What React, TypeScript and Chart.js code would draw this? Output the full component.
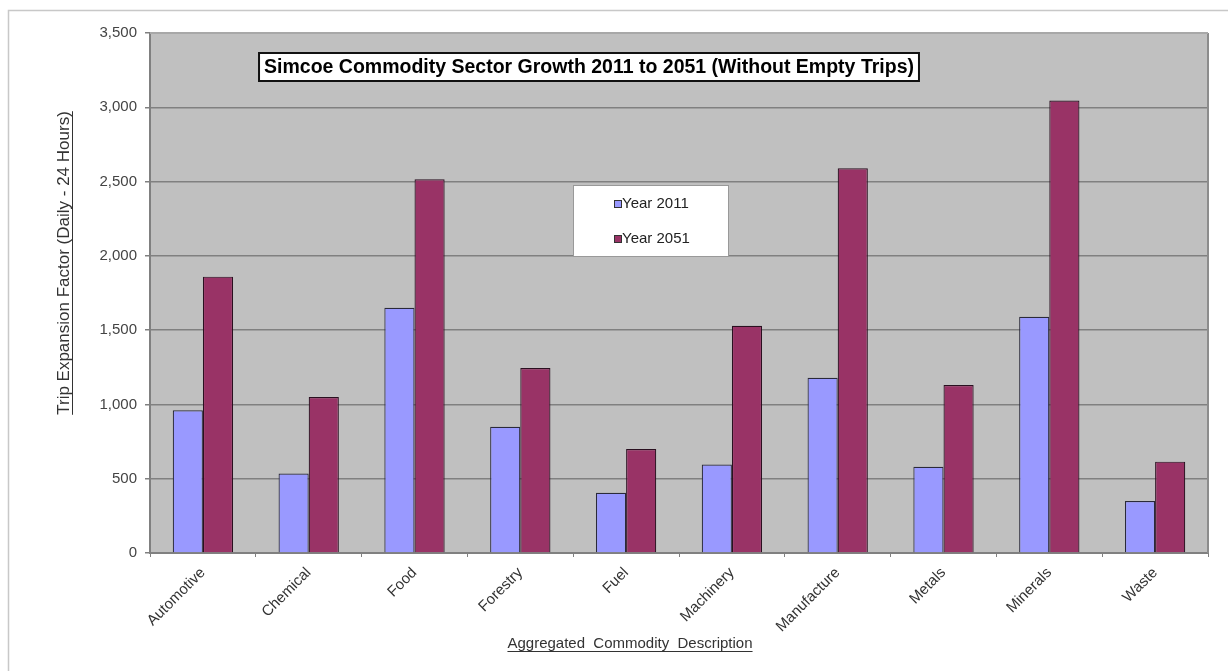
import React, { useEffect, useRef } from 'react';
import { Chart, registerables } from 'chart.js';

Chart.register(...registerables);

const categories = ['Automotive', 'Chemical', 'Food', 'Forestry', 'Fuel', 'Machinery', 'Manufacture', 'Metals', 'Minerals', 'Waste'];
const year2011 = [960, 535, 1650, 850, 405, 595, 1180, 580, 1590, 350];
const year2051 = [1860, 1050, 2515, 1245, 700, 1530, 2590, 1130, 3045, 615];
const seriesLabels = ['Year 2011', 'Year 2051'];
const seriesColors = ['#9999ff', '#993366'];
const yMin = 0;
const yMax = 3500;
const yStep = 500;
const chartTitle = 'Simcoe Commodity Sector Growth 2011 to 2051 (Without Empty Trips)';
const xTitle = 'Aggregated  Commodity  Description';
const yTitle = 'Trip Expansion Factor (Daily - 24 Hours)';

const FONT = "'Liberation Sans', Arial, sans-serif";

function underlinedText(ctx: CanvasRenderingContext2D, text: string, x: number, y: number, off: number) {
  ctx.textAlign = 'center';
  ctx.textBaseline = 'alphabetic';
  ctx.fillText(text, x, y);
  const w = ctx.measureText(text).width;
  ctx.beginPath();
  ctx.lineWidth = 1;
  ctx.moveTo(x - w / 2, y + off + 0.5);
  ctx.lineTo(x + w / 2, y + off + 0.5);
  ctx.stroke();
}

const decorPlugin = {
  id: 'decor',
  beforeDraw(chart: any) {
    const ctx = chart.ctx as CanvasRenderingContext2D;
    const a = chart.chartArea;
    ctx.save();
    ctx.fillStyle = '#ffffff';
    ctx.fillRect(0, 0, chart.width, chart.height);
    ctx.strokeStyle = '#c8c8c8';
    ctx.lineWidth = 1.5;
    ctx.strokeRect(8.5, 10.5, chart.width + 20, chart.height + 20);
    ctx.fillStyle = '#c0c0c0';
    ctx.fillRect(a.left, a.top, a.right - a.left, a.bottom - a.top);
    ctx.restore();
  },
  afterDatasetsDraw(chart: any) {
    const ctx = chart.ctx as CanvasRenderingContext2D;
    const a = chart.chartArea;
    ctx.save();
    ctx.strokeStyle = '#8c8c8c';
    ctx.lineWidth = 2;
    ctx.beginPath();
    ctx.moveTo(a.right, a.top);
    ctx.lineTo(a.right, a.bottom);
    ctx.stroke();
    ctx.strokeStyle = '#a8a8a8';
    ctx.beginPath();
    ctx.moveTo(a.left, a.top);
    ctx.lineTo(a.right, a.top);
    ctx.stroke();

    // Title box
    ctx.font = `bold 19.5px ${FONT}`;
    const tw = ctx.measureText(chartTitle).width;
    const cx = 589;
    const bx = cx - tw / 2 - 5;
    const bw = tw + 10;
    ctx.fillStyle = '#ffffff';
    ctx.fillRect(bx, 53, bw, 28);
    ctx.strokeStyle = '#111111';
    ctx.lineWidth = 2;
    ctx.strokeRect(bx, 53, bw, 28);
    ctx.fillStyle = '#000000';
    ctx.textAlign = 'center';
    ctx.textBaseline = 'middle';
    ctx.fillText(chartTitle, cx, 67.5);

    // Legend
    ctx.fillStyle = '#ffffff';
    ctx.fillRect(573, 185, 155, 71);
    ctx.strokeStyle = '#999999';
    ctx.lineWidth = 1;
    ctx.strokeRect(573.5, 185.5, 155, 71);
    ctx.font = `15px ${FONT}`;
    ctx.textAlign = 'left';
    ctx.textBaseline = 'middle';
    const rows = [204, 239];
    seriesLabels.forEach((lab, i) => {
      ctx.fillStyle = chart.data.datasets[i].backgroundColor;
      ctx.fillRect(614, rows[i] - 4, 7, 7);
      ctx.strokeStyle = '#333333';
      ctx.strokeRect(614.5, rows[i] - 3.5, 7, 7);
      ctx.fillStyle = '#222222';
      ctx.fillText(lab, 622, rows[i]);
    });

    // Axis titles
    ctx.fillStyle = '#333333';
    ctx.strokeStyle = '#333333';
    ctx.font = `15px ${FONT}`;
    underlinedText(ctx, xTitle, 630, 648, 3);
    ctx.font = `17px ${FONT}`;
    ctx.translate(69, 263);
    ctx.rotate(-Math.PI / 2);
    underlinedText(ctx, yTitle, 0, 0, 3);
    ctx.restore();
  },
};

export default function App() {
  const ref = useRef<HTMLCanvasElement | null>(null);
  useEffect(() => {
    if (!ref.current) return;
    const chart = new Chart(ref.current, {
      type: 'bar',
      data: {
        labels: categories,
        datasets: [
          { label: seriesLabels[0], data: year2011, backgroundColor: seriesColors[0], borderColor: '#2a2a3a', borderWidth: 1.2 },
          { label: seriesLabels[1], data: year2051, backgroundColor: seriesColors[1], borderColor: '#2a1020', borderWidth: 1.2 },
        ],
      },
      options: {
        responsive: false,
        animation: false,
        events: [],
        layout: { padding: { left: 0, right: 20, top: 33, bottom: 0 } },
        datasets: { bar: { categoryPercentage: 0.57, barPercentage: 1.0 } },
        plugins: { legend: { display: false }, title: { display: false }, tooltip: { enabled: false } },
        scales: {
          x: {
            offset: true,
            grid: { display: true, drawOnChartArea: false, drawTicks: true, tickLength: 4, color: '#808080', offset: true },
            border: { display: true, color: '#808080', width: 2 },
            ticks: {
              minRotation: 45,
              maxRotation: 45,
              autoSkip: false,
              padding: 7,
              color: '#333333',
              font: { family: FONT, size: 15 },
            },
            afterFit: (s: any) => { s.height = 118; },
          },
          y: {
            min: yMin,
            max: yMax,
            grid: { color: '#808080', lineWidth: 1.5, drawTicks: true, tickLength: 5 },
            border: { display: true, color: '#808080', width: 2 },
            ticks: {
              stepSize: yStep,
              padding: 8,
              color: '#444444',
              font: { family: FONT, size: 15 },
              callback: (v: any) => Number(v).toLocaleString('en-US'),
            },
            afterFit: (s: any) => { s.width = 150; },
          },
        },
      },
      plugins: [decorPlugin],
    });
    return () => chart.destroy();
  }, []);
  return (
    <div style={{ position: 'fixed', left: 0, top: 0, width: 1228, height: 671 }}>
      <canvas ref={ref} width={1228} height={671} style={{ display: 'block' }} />
    </div>
  );
}
